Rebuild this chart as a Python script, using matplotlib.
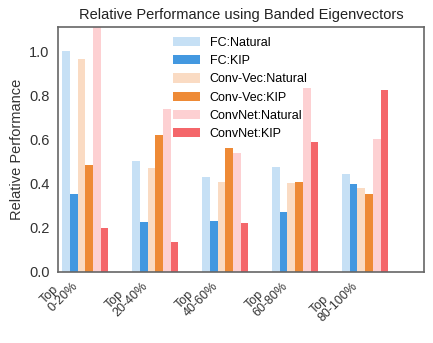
import matplotlib
matplotlib.use("Agg")
import matplotlib.pyplot as plt
import numpy as np

plt.rcParams['font.family'] = ['Liberation Sans', 'DejaVu Sans']

categories = ["Top\n0-20%", "Top\n20-40%", "Top\n40-60%", "Top\n60-80%", "Top\n80-100%"]
series_names = ["FC:Natural", "FC:KIP", "Conv-Vec:Natural", "Conv-Vec:KIP",
                "ConvNet:Natural", "ConvNet:KIP"]
fc_natural = [1.00, 0.505, 0.43, 0.478, 0.445]
fc_kip = [0.355, 0.225, 0.233, 0.27, 0.40]
convvec_natural = [0.965, 0.47, 0.41, 0.405, 0.38]
convvec_kip = [0.485, 0.62, 0.56, 0.41, 0.355]
convnet_natural = [1.15, 0.74, 0.54, 0.835, 0.605]
convnet_kip = [0.20, 0.135, 0.222, 0.59, 0.825]

colors = ["#C6E0F5", "#4398E0", "#FADBC3", "#EE8A36", "#FDD0D2", "#F4666A"]
series = [fc_natural, fc_kip, convvec_natural, convvec_kip, convnet_natural, convnet_kip]

fig = plt.figure(figsize=(4.33, 3.43), dpi=100)
ax = fig.add_axes([0.134, 0.207, 0.845, 0.714])

x = np.arange(len(categories))
w = 0.11
for i, (vals, name, c) in enumerate(zip(series, series_names, colors)):
    ax.bar(x + (i - 2.5) * w, vals, width=w, color=c, label=name, edgecolor='none')

ax.set_xlim(-0.39, 4.84)
ax.set_ylim(0, 1.11)
ax.set_yticks([0.0, 0.2, 0.4, 0.6, 0.8, 1.0])
ax.set_yticklabels(["0.0", "0.2", "0.4", "0.6", "0.8", "1.0"], fontsize=10.5, color='#333333')
ax.set_xticks(x - 0.07)
ax.set_xticklabels(categories, rotation=45, ha='right', ma='left', fontsize=9,
                   color='#333333', linespacing=0.95)
ax.tick_params(axis='x', length=0, pad=0)
ax.tick_params(axis='y', length=0, pad=6)
ax.set_ylabel("Relative Performance", fontsize=10.5, color='#333333')
ax.set_title("Relative Performance using Banded Eigenvectors", fontsize=10.5, color='#222222')
for s in ax.spines.values():
    s.set_color('#666666')
    s.set_linewidth(1.2)

ax.legend(loc='upper left', bbox_to_anchor=(0.314, 0.96), frameon=False, fontsize=9,
          borderaxespad=0, borderpad=0,
          handlelength=2.15, handleheight=0.75, labelspacing=0.5, handletextpad=0.8)

fig.savefig("out.png", dpi=100)
